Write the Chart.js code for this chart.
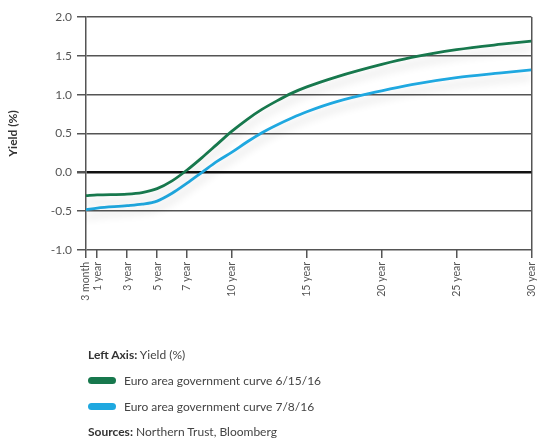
<!DOCTYPE html>
<html>
<head>
<meta charset="utf-8">
<script src="https://cdn.jsdelivr.net/npm/chart.js@4/dist/chart.umd.min.js"></script>
<style>
  html, body { margin: 0; padding: 0; background: #fff; }
  #wrap { position: relative; width: 548px; height: 441px; font-family: Lato, "Open Sans", sans-serif; }
  #wrap canvas { position: absolute; left: 0; top: 0; }
  .legend { position: absolute; left: 88px; color: #444; font-size: 12px; }
  .legend b { color: #333; }
  .swatch { display: inline-block; width: 28px; height: 7px; border-radius: 4px; vertical-align: middle; margin-right: 8px; position: relative; top: -1px; }
</style>
</head>
<body>
<div id="wrap">
  <canvas id="c" width="548" height="441"></canvas>
  <div class="legend" style="top:347px"><b>Left Axis:</b> Yield (%)</div>
  <div class="legend" style="top:373px"><span class="swatch" style="background:#17784d"></span>Euro area government curve 6/15/16</div>
  <div class="legend" style="top:399px"><span class="swatch" style="background:#1fa8e0"></span>Euro area government curve 7/8/16</div>
  <div class="legend" style="top:424px"><b>Sources:</b> Northern Trust, Bloomberg</div>
</div>
<script>
// Maturities in years
const maturities = [0.25, 1, 3, 4, 5, 6, 7, 8, 9, 10, 11, 12, 13, 14, 15, 17, 20, 22, 25, 28, 30];
// Yield (%) curve on 6/15/16
const curveJune = [-0.30, -0.29, -0.28, -0.26, -0.21, -0.11, 0.03, 0.19, 0.36, 0.53, 0.68, 0.81, 0.92, 1.02, 1.10, 1.23, 1.39, 1.48, 1.58, 1.65, 1.69];
// Yield (%) curve on 7/8/16
const curveJuly = [-0.48, -0.46, -0.43, -0.41, -0.37, -0.27, -0.14, 0.00, 0.14, 0.26, 0.39, 0.51, 0.61, 0.70, 0.78, 0.91, 1.05, 1.13, 1.22, 1.28, 1.32];
// Labelled maturities on the x axis
const tickValues = [0.25, 1, 3, 5, 7, 10, 15, 20, 25, 30];
const tickLabels = ["3 month", "1 year", "3 year", "5 year", "7 year", "10 year", "15 year", "20 year", "25 year", "30 year"];
const yTicks = [-1.0, -0.5, 0.0, 0.5, 1.0, 1.5, 2.0];

const toPoints = (ys) => maturities.map((m, i) => ({ x: m, y: ys[i] }));

// soft drop shadow under each curve
const lineShadow = {
  id: 'lineShadow',
  beforeDatasetDraw(chart) {
    const ctx = chart.ctx;
    ctx.save();
    ctx.shadowColor = 'rgba(0,0,0,0.16)';
    ctx.shadowBlur = 9;
    ctx.shadowOffsetY = 7;
  },
  afterDatasetDraw(chart) {
    chart.ctx.restore();
  }
};

new Chart(document.getElementById('c'), {
  type: 'line',
  data: {
    datasets: [
      { label: 'Euro area government curve 6/15/16', data: toPoints(curveJune), borderColor: '#17784d', borderWidth: 2.8, pointRadius: 0, cubicInterpolationMode: 'monotone' },
      { label: 'Euro area government curve 7/8/16', data: toPoints(curveJuly), borderColor: '#1fa8e0', borderWidth: 2.8, pointRadius: 0, cubicInterpolationMode: 'monotone' }
    ]
  },
  options: {
    responsive: false,
    animation: false,
    layout: { padding: { top: 17, right: 10, left: 0, bottom: 0 } },
    plugins: { legend: { display: false }, tooltip: { enabled: false } },
    scales: {
      x: {
        type: 'linear',
        min: 0.25,
        max: 30,
        afterBuildTicks(scale) { scale.ticks = tickValues.map(v => ({ value: v })); },
        afterFit(scale) { scale.height = 191; },
        border: { display: false },
        grid: {
          drawOnChartArea: true,
          color: (c) => (c.tick && c.tick.value === 30) ? '#555' : 'rgba(0,0,0,0)',
          tickColor: '#555',
          tickLength: 8,
          lineWidth: 1.5,
          tickWidth: 1.5
        },
        ticks: {
          autoSkip: false,
          minRotation: 90,
          maxRotation: 90,
          padding: 4,
          color: '#555',
          font: { family: 'Lato', size: 10.5 },
          callback: (v) => { const i = tickValues.indexOf(v); return i >= 0 ? tickLabels[i] : ''; }
        }
      },
      y: {
        min: -1.0,
        max: 2.0,
        afterBuildTicks(scale) { scale.ticks = yTicks.map(v => ({ value: v })); },
        afterFit(scale) { scale.width = 86; },
        border: { display: true, color: '#555', width: 1.5 },
        grid: {
          color: (c) => (c.tick && c.tick.value === 0) ? '#111' : '#555',
          lineWidth: (c) => (c.tick && c.tick.value === 0) ? 2.5 : 1.5,
          tickColor: '#555',
          tickLength: 9
        },
        ticks: {
          padding: 5,
          color: '#555',
          font: { family: 'Lato', size: 12 },
          callback: (v) => Number(v).toFixed(1)
        },
        title: {
          display: true,
          text: 'Yield (%)',
          color: '#333',
          font: { family: 'Lato', size: 12, weight: 'bold' },
          padding: { top: 6, bottom: 0 }
        }
      }
    }
  },
  plugins: [lineShadow]
});
</script>
</body>
</html>
